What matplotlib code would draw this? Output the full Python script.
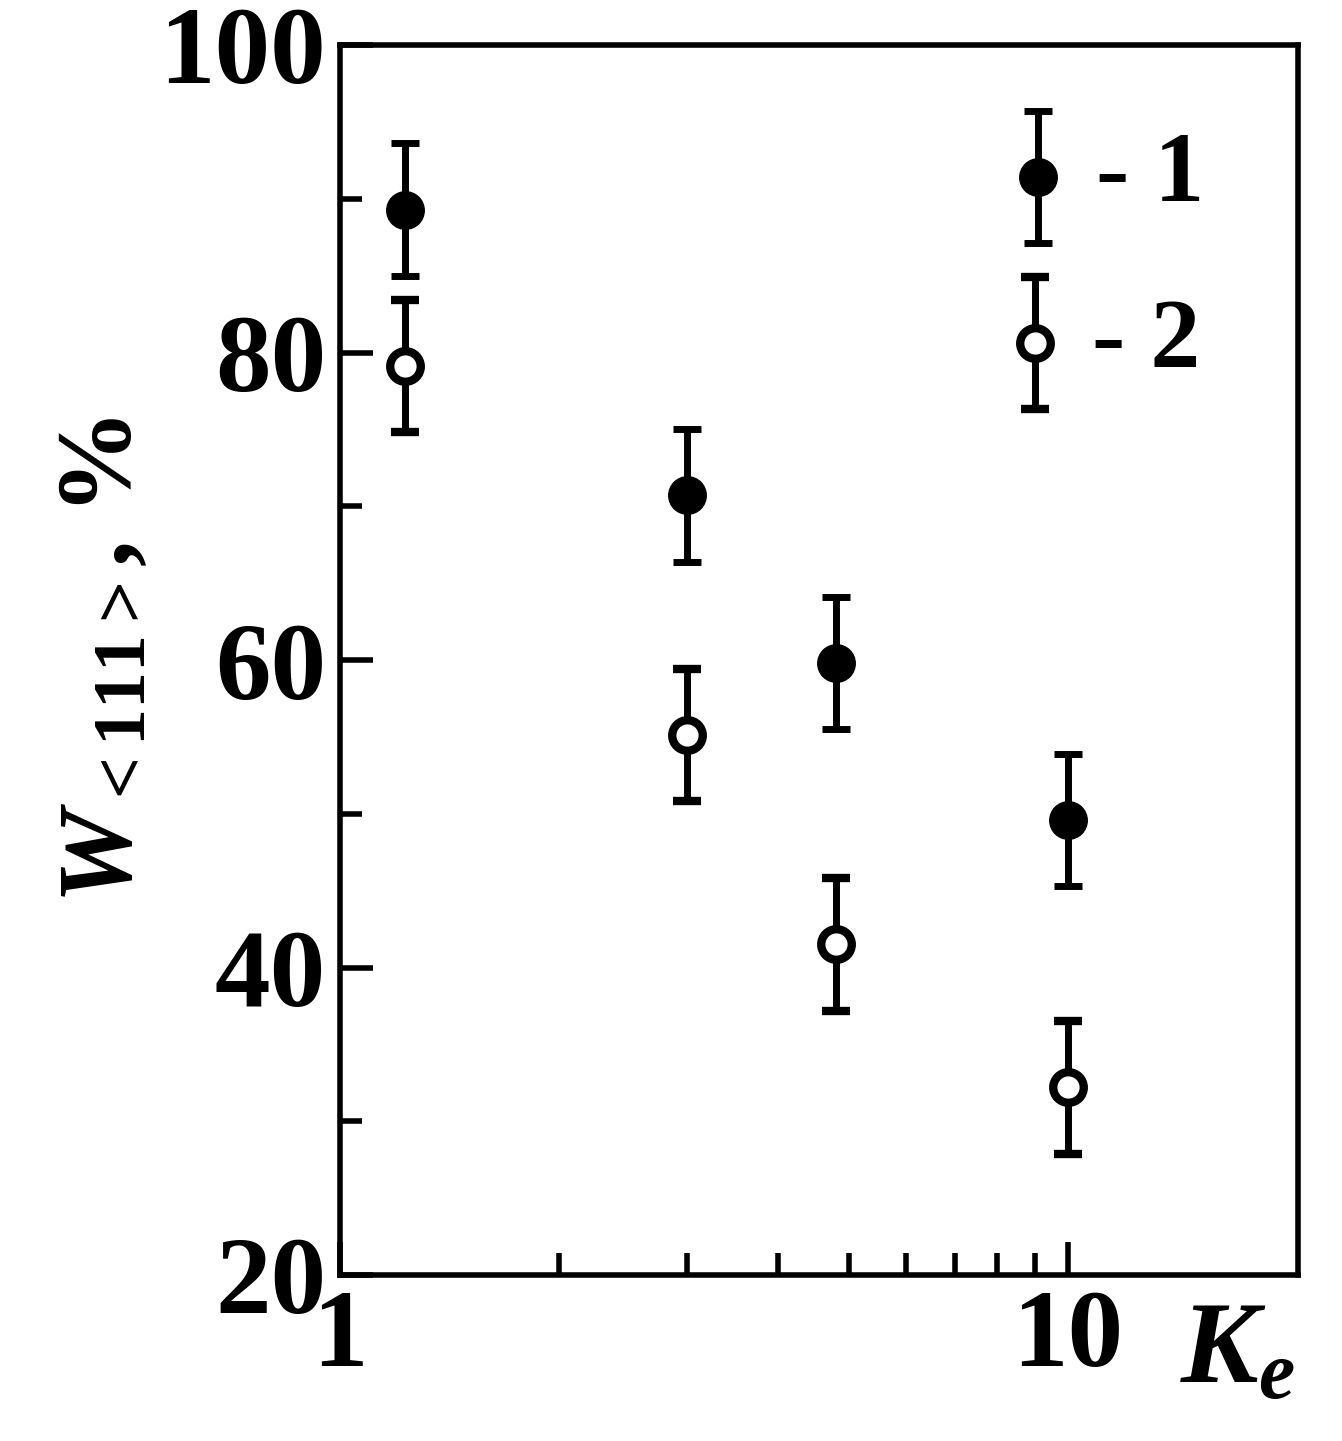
import matplotlib.pyplot as plt
from matplotlib.ticker import FixedLocator, NullFormatter

plt.rcParams['font.family'] = ['Liberation Serif', 'DejaVu Serif']
plt.rcParams['mathtext.fontset'] = 'custom'
plt.rcParams['mathtext.it'] = 'Liberation Serif:italic:bold'
plt.rcParams['mathtext.rm'] = 'Liberation Serif:bold'
plt.rcParams['mathtext.bf'] = 'Liberation Serif:bold'

# data
ke = [1.23, 3.0, 4.8, 10.0]
w_filled = [89.3, 70.7, 59.8, 49.6]
w_open = [79.1, 55.1, 41.5, 32.2]
err = 4.3

# legend samples
leg_x = [9.1, 9.0]
leg_y = [91.4, 80.6]
leg_lbl = ['- 1', '- 2']

fig = plt.figure(figsize=(13.42, 14.41), dpi=100)
ax = fig.add_axes([340 / 1342, 1 - 1275 / 1441, 958 / 1342, 1230 / 1441])

filled = dict(fmt='o', color='black', ms=27, mfc='black',
              elinewidth=5, capsize=10, capthick=5)
hollow = dict(fmt='o', color='black', ms=22, mfc='white', mew=6,
              elinewidth=5, capsize=10, capthick=5)
ax.errorbar(ke, w_filled, yerr=err, **filled)
ax.errorbar(ke, w_open, yerr=err, **hollow)
ax.errorbar([leg_x[0]], [leg_y[0]], yerr=err, **filled)
ax.errorbar([leg_x[1]], [leg_y[1]], yerr=err, **hollow)
for x, y, t in zip(leg_x, leg_y, leg_lbl):
    ax.text(x * 1.2, y, t, fontsize=72, fontweight='bold', va='center', ha='left')

ax.set_xscale('log')
ax.set_xlim(1, 20.7)
ax.set_ylim(20, 100)
ax.xaxis.set_major_locator(FixedLocator([1, 10]))
ax.xaxis.set_minor_locator(FixedLocator([2, 3, 4, 5, 6, 7, 8, 9]))
ax.xaxis.set_minor_formatter(NullFormatter())
ax.set_xticklabels(['1', '10'])
ax.yaxis.set_major_locator(FixedLocator([20, 40, 60, 80, 100]))
ax.yaxis.set_minor_locator(FixedLocator([30, 50, 70, 90]))
ax.tick_params(which='both', direction='in', width=4, labelsize=80)
ax.tick_params(which='major', length=24, pad=10)
ax.tick_params(which='minor', length=16)
for lab in ax.get_xticklabels() + ax.get_yticklabels():
    lab.set_fontweight('bold')
for s in ax.spines.values():
    s.set_linewidth(4)

ax.set_ylabel(r'$W_{\mathrm{<111>}}$, %', fontsize=76, fontweight='bold', labelpad=4)
fig.text(1180 / 1342, 1 - 1355 / 1441, r'$K_e$', fontsize=84, ha='left', va='center')

fig.savefig('out.png', dpi=100)
